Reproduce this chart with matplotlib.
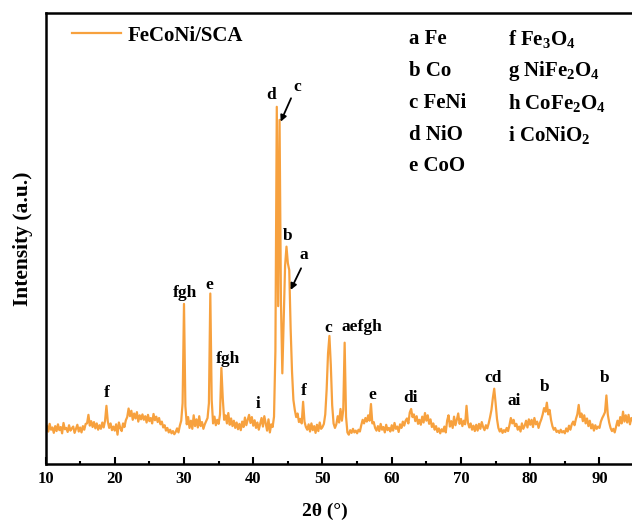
import numpy as np
import matplotlib
matplotlib.use("Agg")
import matplotlib.pyplot as plt
from matplotlib.ticker import MultipleLocator

plt.rcParams['font.family'] = ['Liberation Serif', 'DejaVu Serif']
plt.rcParams['font.weight'] = 'bold'
plt.rcParams['mathtext.fontset'] = 'custom'
plt.rcParams['mathtext.rm'] = 'Liberation Serif:bold'
plt.rcParams['mathtext.bf'] = 'Liberation Serif:bold'
plt.rcParams['mathtext.it'] = 'Liberation Serif:bold:italic'
plt.rcParams['mathtext.default'] = 'rm'

# XRD scan: 2-theta from 10 to 95 degrees, 0.2 degree step
scan_start = 10.0
scan_step = 0.2
intensity = [
    7.8, 8.5, 7.2, 8.9, 7.6, 8.1, 6.9, 8.4, 7.3, 8.8,      # 10.0-11.8
    7.5, 8.2, 6.8, 9.1, 7.7, 8.0, 7.1, 8.6, 7.4, 7.9,      # 12.0-13.8
    8.3, 6.9, 7.8, 8.7, 7.2, 8.1, 7.0, 8.4, 7.6, 8.9,      # 14.0-15.8
    9.0, 10.9, 8.5, 9.5, 8.2, 9.3, 7.9, 9.0, 7.6, 8.6,     # 16.0-17.8
    7.8, 9.2, 8.1, 9.6, 12.9, 9.4, 8.0, 9.0, 7.5, 8.3,     # 18.0-19.8
    7.4, 8.8, 6.5, 9.2, 8.0, 7.3, 9.0, 8.2, 9.7, 10.4,     # 20.0-21.8
    12.3, 10.6, 11.8, 9.8, 11.2, 10.1, 11.5, 9.4, 10.8, 9.9,  # 22.0-23.8
    11.0, 9.8, 10.6, 9.2, 10.9, 9.5, 10.2, 9.0, 11.1, 9.7,   # 24.0-25.8
    10.5, 9.3, 10.2, 8.8, 9.4, 8.1, 8.6, 7.4, 8.0, 7.0,    # 26.0-27.8
    7.6, 6.8, 7.3, 6.6, 7.1, 7.9, 7.0, 8.5, 9.6, 13.5,     # 28.0-29.8
    35.5, 12.8, 8.8, 10.4, 8.0, 9.6, 7.8, 10.8, 8.4, 9.9,  # 30.0-31.8
    8.1, 10.6, 8.4, 9.3, 7.8, 8.8, 9.5, 10.2, 13.5, 37.8,  # 32.0-33.8
    14.2, 9.0, 10.5, 8.6, 9.8, 8.9, 11.0, 21.3, 14.5, 9.8, # 34.0-35.8
    10.8, 9.0, 11.3, 8.7, 10.1, 8.4, 9.6, 8.0, 9.2, 7.7,   # 36.0-37.8
    8.9, 7.5, 9.4, 8.2, 10.3, 8.6, 9.8, 10.9, 9.1, 10.4,   # 38.0-39.8
    8.5, 9.7, 8.0, 9.2, 7.6, 8.9, 10.2, 8.3, 10.6, 9.0,    # 40.0-41.8
    7.4, 9.9, 7.0, 8.8, 8.2, 10.5, 25.0, 79.2, 35.0, 76.3, # 42.0-43.8
    36.0, 20.1, 32.0, 44.0, 48.2, 44.5, 43.0, 30.0, 20.5, 14.2,  # 44.0-45.8
    12.0, 10.4, 11.2, 9.3, 10.0, 9.0, 13.8, 9.4, 8.2, 7.6, # 46.0-47.8
    8.8, 7.2, 9.0, 7.5, 8.4, 6.9, 8.7, 7.3, 9.2, 7.8,      # 48.0-49.8
    8.2, 8.9, 11.0, 16.5, 24.5, 28.4, 22.0, 13.0, 9.0, 8.0,  # 50.0-51.8
    8.8, 10.6, 9.2, 12.2, 9.6, 12.0, 26.9, 10.5, 7.0, 6.5,   # 52.0-53.8
    7.5, 6.9, 7.8, 7.0, 7.4, 6.8, 7.6, 7.2, 8.6, 9.8,      # 54.0-55.8
    9.0, 10.2, 9.4, 10.8, 9.6, 13.3, 9.0, 9.3, 8.0, 7.4,   # 56.0-57.8
    8.4, 7.3, 8.9, 7.6, 8.2, 7.0, 8.7, 7.5, 8.0, 7.2,      # 58.0-59.8
    8.6, 7.4, 9.1, 7.8, 8.3, 7.1, 8.8, 8.0, 9.4, 8.5,      # 60.0-61.8
    9.6, 10.1, 9.0, 11.4, 12.2, 10.4, 11.0, 9.5, 10.6, 8.9,  # 62.0-63.8
    9.8, 8.7, 10.5, 9.2, 11.3, 9.6, 10.8, 8.9, 9.9, 8.2,   # 64.0-65.8
    9.0, 7.6, 8.4, 7.1, 7.9, 6.8, 7.7, 7.2, 8.3, 7.0,      # 66.0-67.8
    9.6, 10.8, 8.3, 9.5, 8.0, 10.5, 8.6, 9.8, 11.2, 8.9,   # 68.0-69.8
    10.0, 8.4, 9.6, 8.8, 12.9, 9.2, 8.1, 9.0, 7.6, 8.5,    # 70.0-71.8
    7.3, 8.7, 7.4, 8.9, 7.8, 9.3, 8.2, 7.5, 8.6, 7.9,      # 72.0-73.8
    9.0, 10.4, 12.0, 14.6, 16.7, 13.5, 10.0, 8.0, 7.2, 7.8,  # 74.0-75.8
    6.9, 7.5, 7.1, 8.0, 7.3, 8.6, 10.2, 9.0, 9.8, 8.4,     # 76.0-77.8
    8.9, 7.6, 8.3, 7.2, 9.0, 7.8, 8.5, 9.6, 8.1, 9.9,      # 78.0-79.8
    8.7, 9.8, 8.2, 10.2, 8.8, 9.4, 8.0, 9.1, 9.9, 11.0,    # 80.0-81.8
    12.4, 11.6, 13.6, 11.0, 12.0, 9.8, 8.4, 7.6, 8.0, 7.1, # 82.0-83.8
    7.4, 6.9, 7.6, 7.0, 7.3, 6.8, 7.9, 7.2, 8.5, 7.6,      # 84.0-85.8
    8.8, 9.4, 8.6, 10.0, 11.0, 13.1, 10.4, 11.2, 9.5, 10.8,  # 86.0-87.8
    9.0, 10.1, 8.4, 9.6, 7.9, 8.8, 7.4, 8.6, 7.8, 8.3,     # 88.0-89.8
    8.0, 9.4, 10.2, 10.8, 11.5, 15.2, 11.0, 9.2, 8.0, 7.3, # 90.0-91.8
    7.8, 7.0, 8.3, 9.6, 8.5, 10.4, 9.0, 11.6, 9.4, 10.8,   # 92.0-93.8
    9.2, 10.9, 8.8, 10.2, 9.6, 10.0,                       # 94.0-95.0
]
two_theta = scan_start + scan_step * np.arange(len(intensity))

series_name = 'FeCoNi/SCA'

# phase letters placed above the reflections: (text, 2theta, intensity)
peak_labels = [
    ('f', 18.9, 15.7), ('fgh', 30.2, 37.9), ('e', 33.65, 39.7),
    ('fgh', 36.4, 23.3), ('i', 40.7, 13.3), ('d', 42.55, 81.8),
    ('c', 46.3, 83.7), ('b', 44.97, 50.6), ('a', 47.25, 46.3),
    ('f', 47.25, 16.2), ('c', 50.85, 30.2), ('aefgh', 55.75, 30.4),
    ('e', 57.2, 15.3), ('di', 62.7, 14.6), ('cd', 74.7, 19.1),
    ('ai', 77.75, 14.0), ('b', 82.1, 17.1), ('b', 90.8, 19.1),
]
# arrows pointing at overlapped reflections: (tail, head)
arrows = [((45.46, 81.1), (43.96, 75.9)), ((46.91, 43.4), (45.4, 38.6))]

phase_key_left = ['a Fe', 'b Co', 'c FeNi', 'd NiO', 'e CoO']
phase_key_right = ['f Fe$_3$O$_4$', 'g NiFe$_2$O$_4$', 'h CoFe$_2$O$_4$', 'i CoNiO$_2$']

line_color = '#F7A13E'

fig = plt.figure(figsize=(6.32, 5.21), dpi=100)
ax = fig.add_axes([45.5 / 632, 57 / 521, 588.6 / 632, 451 / 521])

ax.plot(two_theta, intensity, color=line_color, lw=1.6, label=series_name)

ax.set_xlim(10, 95)
ax.set_ylim(0, 100)
ax.xaxis.set_major_locator(MultipleLocator(10))
ax.xaxis.set_minor_locator(MultipleLocator(5))
ax.set_yticks([])
ax.tick_params(axis='x', which='major', direction='in', length=5, width=1.5,
               labelsize=12, pad=5)
ax.tick_params(axis='x', which='minor', direction='in', length=2.5, width=1.5)
for lbl in ax.get_xticklabels():
    lbl.set_fontweight('bold')
for side in ('left', 'bottom', 'top'):
    ax.spines[side].set_linewidth(1.8)
ax.spines['right'].set_visible(False)

ax.set_xlabel('2θ (°)', fontsize=14, fontweight='bold')
ax.xaxis.set_label_coords(0.474, -0.085)
ax.set_ylabel('Intensity (a.u.)', fontsize=15.5, fontweight='bold')
ax.yaxis.set_label_coords(-0.022, 0.5)

leg = ax.legend(loc='upper left', bbox_to_anchor=(0.045, 0.972), frameon=False,
                borderpad=0, borderaxespad=0, handlelength=2.35,
                handletextpad=0.3, prop={'family': 'Liberation Serif',
                                          'weight': 'bold', 'size': 15})

for txt, x, y in peak_labels:
    ax.text(x, y, txt, ha='center', va='center', fontsize=12.5, fontweight='bold')

for (tx, ty), (hx, hy) in arrows:
    ax.annotate('', xy=(hx, hy), xytext=(tx, ty),
                arrowprops=dict(arrowstyle='-|>', color='black', lw=1.3,
                                mutation_scale=9, shrinkA=0, shrinkB=0))

rows_y = [0.9424, 0.8714, 0.8004, 0.7295, 0.6608]
for txt, y in zip(phase_key_left, rows_y):
    ax.text(0.6176, y, txt, transform=ax.transAxes, ha='left', va='center',
            fontsize=15, fontweight='bold')
for txt, y in zip(phase_key_right, rows_y):
    ax.text(0.7858, y, txt, transform=ax.transAxes, ha='left', va='center',
            fontsize=15, fontweight='bold')

fig.savefig('out.png', dpi=100)
